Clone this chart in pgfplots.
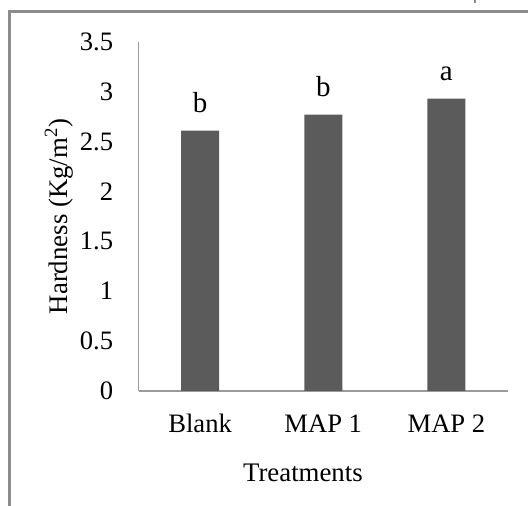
\documentclass[border=0pt]{standalone}
\usepackage{fontspec}
\setmainfont{Liberation Serif}
\usepackage{pgfplots}
\pgfplotsset{compat=1.18}
\definecolor{barc}{HTML}{5B5B5B}
\definecolor{axc}{HTML}{9A9A9A}
\definecolor{frc}{HTML}{8C8C8C}
\begin{document}
\begin{tikzpicture}
\useasboundingbox (-69.25pt,-57.5pt) rectangle (194.75pt,195.5pt);
\draw[frc, line width=1.3pt] (-64.5pt,-60pt) -- (-64.5pt,189.75pt) -- (200pt,189.75pt);
\draw[frc, line width=0.8pt] (168.1pt,196pt) -- (168.1pt,194.2pt);
\begin{axis}[
  at={(0,0)}, anchor=south west,
  scale only axis,
  width=184.75pt, height=174.65pt,
  xmin=-0.5, xmax=2.5, ymin=0, ymax=3.5,
  axis lines*=left,
  axis line style={draw=axc, line width=0.8pt},
  major tick length=0pt,
  xtick={0,1,2}, xticklabels={Blank,MAP 1,MAP 2},
  ytick={0,0.5,1,1.5,2,2.5,3,3.5},
  yticklabels={0,0.5,1,1.5,2,2.5,3,3.5},
  tick label style={font=\fontsize{13.3}{15}\selectfont},
  xticklabel style={anchor=base, inner sep=0pt, yshift=-21pt},
  yticklabel style={anchor=east, inner sep=0pt, xshift=-12.5pt},
  xlabel={Treatments},
  ylabel={Hardness (Kg/m\textsuperscript{2})},
  label style={font=\fontsize{13.4}{15}\selectfont},
  xlabel style={at={(axis description cs:0.445,-0.2597)}, anchor=base, inner sep=0pt},
  ylabel style={at={(axis description cs:-0.215,0.5)}, anchor=center, inner sep=0pt},
  ybar, bar width=19pt,
  clip=false,
  point meta=explicit symbolic,
  nodes near coords,
  every node near coord/.append style={anchor=base, inner sep=0pt, yshift=9pt, font=\fontsize{14.5}{16}\selectfont, text=black},
]
\addplot[fill=barc, draw=none] table[meta=lab] {
x y lab
0 2.61 b
1 2.77 b
2 2.93 a
};
\end{axis}
\end{tikzpicture}
\end{document}
